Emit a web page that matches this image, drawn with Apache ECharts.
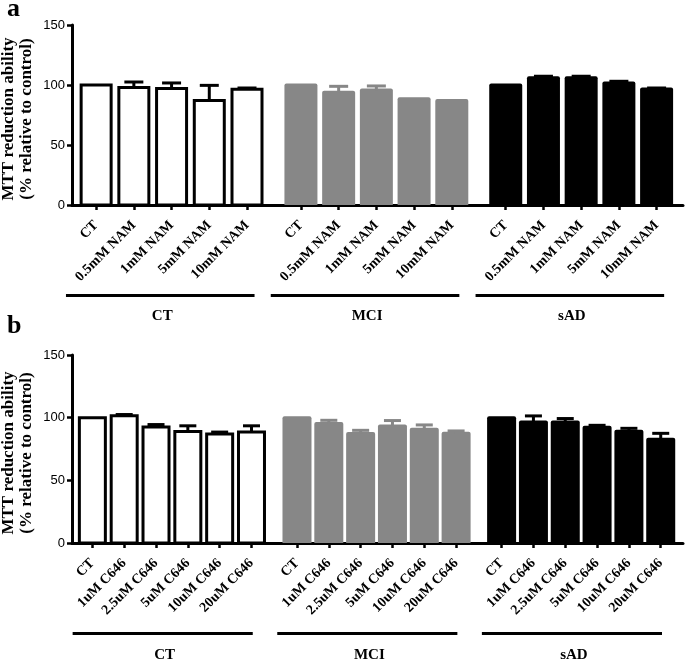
<!DOCTYPE html>
<html><head><meta charset="utf-8">
<script src="https://cdn.jsdelivr.net/npm/echarts@6/dist/echarts.min.js"></script>
<style>html,body{margin:0;padding:0;background:#fff}#c{width:685px;height:662px}</style>
</head><body><div id="c"></div>
<script>
// ---------- data ----------
const groups = ['CT', 'MCI', 'sAD'];
const labelsA = ['CT', '0.5mM NAM', '1mM NAM', '5mM NAM', '10mM NAM'];
const labelsB = ['CT', '1uM C646', '2.5uM C646', '5uM C646', '10uM C646', '20uM C646'];

const meanA_CT  = [100, 98, 97, 87, 96.5];
const semA_CT   = [0, 4.5, 4.7, 12.7, 1.0];
const meanA_MCI = [100, 94, 95.8, 88.5, 87];
const semA_MCI  = [0, 4.9, 3.4, 0, 0];
const meanA_sAD = [100, 106, 106, 101.7, 96.6];
const semA_sAD  = [0, 1.3, 1.3, 1.4, 0.9];

const meanB_CT  = [100, 101.5, 92.5, 89, 87, 88.5];
const semB_CT   = [0, 1.0, 2.0, 4.5, 1.5, 5.0];
const meanB_MCI = [100, 95.3, 87.3, 93.4, 90.7, 87.5];
const semB_MCI  = [0, 2.6, 2.6, 4.3, 3.5, 1.9];
const meanB_sAD = [100, 96.6, 96.6, 92.3, 89.1, 82.7];
const semB_sAD  = [0, 4.8, 2.7, 1.6, 2.4, 4.8];

const yMin = 0, yMax = 150, yStep = 50;
const yTitle = 'MTT reduction ability\n(% relative to control)';

// ---------- styling / layout ----------
const GAP = 0.43;           // extra spacing between groups, in slot units
const FILL = ['#ffffff', '#878787', '#000000'];
const ERR  = ['#000000', '#878787', '#000000'];
const SERIF = '"Liberation Serif", "Times New Roman", serif';
const SANS = '"Liberation Sans", Arial, sans-serif';

const panels = [
  { labels: labelsA, means: [meanA_CT, meanA_MCI, meanA_sAD], sems: [semA_CT, semA_MCI, semA_sAD],
    top: 25, height: 180, barW: 30, capW: 19, lineY: 295.5, textY: 316, offL: 0.8, offR: 0.2, titleY: 119 },
  { labels: labelsB, means: [meanB_CT, meanB_MCI, meanB_sAD], sems: [semB_CT, semB_MCI, semB_sAD],
    top: 355, height: 188, barW: 26, capW: 17, lineY: 633.5, textY: 655, offL: 0.62, offR: 0.04, titleY: 453 }
];

function pos(g, i, n) { return g * (n + GAP) + i; }

const grid = [], xAxis = [], yAxis = [], series = [];
panels.forEach((p, k) => {
  const n = p.labels.length;
  const positions = [], labelMap = {};
  const data = [];
  groups.forEach((gname, g) => {
    p.labels.forEach((lab, i) => {
      const x = pos(g, i, n);
      positions.push(x);
      labelMap[x.toFixed(3)] = lab;
      data.push([x, p.means[g][i], p.sems[g][i], g]);
    });
  });
  const last = positions[positions.length - 1];
  grid.push({ left: 72, right: 685 - 683, top: p.top, height: p.height,
    containLabel: false, outerBoundsMode: 'none' });
  xAxis.push({
    gridIndex: k, type: 'value', min: -0.64, max: last + 0.7,
    splitLine: { show: false },
    axisLine: { show: true, onZero: false, lineStyle: { color: '#000', width: 3 } },
    axisTick: { show: true, customValues: positions, length: 5, lineStyle: { color: '#000', width: 2.5 } },
    axisLabel: {
      customValues: positions, rotate: 45, margin: 18,
      fontFamily: SERIF, fontWeight: 'bold', fontSize: 14, color: '#000',
      formatter: v => labelMap[Number(v).toFixed(3)] || ''
    }
  });
  yAxis.push({
    gridIndex: k, type: 'value', min: yMin, max: yMax, interval: yStep,
    splitLine: { show: false },
    axisLine: { show: true, onZero: false, lineStyle: { color: '#000', width: 3 } },
    axisTick: { show: true, length: 5, lineStyle: { color: '#000', width: 2.5 } },
    axisLabel: { fontFamily: SANS, fontSize: 13, color: '#000', margin: 7 }
  });
  const barW = p.barW, capW = p.capW;
  // bars
  series.push({
    type: 'custom', xAxisIndex: k, yAxisIndex: k, data, animation: false, z: 2,
    encode: { x: 0, y: 1 },
    renderItem: (params, api) => {
      const x = api.value(0), m = api.value(1), g = api.value(3);
      const p0 = api.coord([x, 0]), p1 = api.coord([x, m]);
      if (g === 0) {
        return { type: 'rect', shape: { x: p0[0] - barW / 2, y: p1[1], width: barW, height: p0[1] - p1[1] },
          style: { fill: '#fff', stroke: '#000', lineWidth: 3 } };
      }
      const w = barW + 3;
      return { type: 'rect', shape: { x: p0[0] - w / 2, y: p1[1] - 1.5, width: w, height: p0[1] - p1[1] + 1.5, r: [2, 2, 0, 0] },
        style: { fill: FILL[g] } };
    }
  });
  // error bars (upper SEM)
  series.push({
    type: 'custom', xAxisIndex: k, yAxisIndex: k, data, animation: false, z: 3,
    encode: { x: 0, y: 1 },
    renderItem: (params, api) => {
      const x = api.value(0), m = api.value(1), s = api.value(2), g = api.value(3);
      if (!s) return null;
      const p0 = api.coord([x, m]), p1 = api.coord([x, m + s]);
      const st = { stroke: ERR[g], lineWidth: 3 };
      return { type: 'group', children: [
        { type: 'line', shape: { x1: p0[0], y1: p0[1], x2: p1[0], y2: p1[1] }, style: st },
        { type: 'line', shape: { x1: p1[0] - capW / 2, y1: p1[1], x2: p1[0] + capW / 2, y2: p1[1] }, style: st }
      ]};
    }
  });
});

const chart = echarts.init(document.getElementById('c'), null, { renderer: 'canvas' });
chart.setOption({ backgroundColor: '#fff', animation: false, grid, xAxis, yAxis, series });

// panel letters, axis titles, group brackets and labels
const graphics = [
  { type: 'text', left: 7, top: -4, style: { text: 'a', font: 'bold 26px ' + SERIF, fill: '#000' } },
  { type: 'text', left: 7, top: 313, style: { text: 'b', font: 'bold 26px ' + SERIF, fill: '#000' } }
];
panels.forEach((p, k) => {
  const n = p.labels.length;
  graphics.push({ type: 'text', x: 18, y: p.titleY, rotation: Math.PI / 2,
    style: { text: yTitle, font: 'bold 17px ' + SERIF, lineHeight: 18, fill: '#000', align: 'center', verticalAlign: 'middle' } });
  groups.forEach((gname, g) => {
    const x0 = chart.convertToPixel({ xAxisIndex: k }, pos(g, 0, n) - p.offL);
    const x1 = chart.convertToPixel({ xAxisIndex: k }, pos(g, n - 1, n) + p.offR);
    graphics.push({ type: 'line', shape: { x1: x0, y1: p.lineY, x2: x1, y2: p.lineY },
      style: { stroke: '#000', lineWidth: 3 } });
    graphics.push({ type: 'text', x: (x0 + x1) / 2 + 2, y: p.textY,
      style: { text: gname, font: 'bold 15px ' + SERIF, fill: '#000', align: 'center', verticalAlign: 'middle' } });
  });
});
chart.setOption({ graphic: graphics });
</script></body></html>
